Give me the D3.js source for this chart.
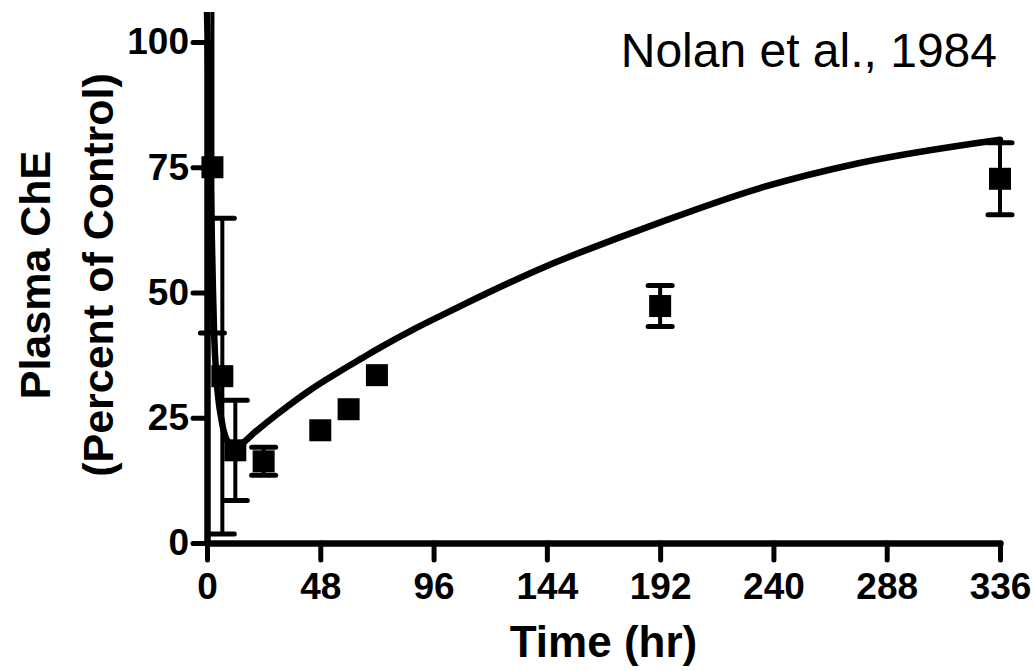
<!DOCTYPE html>
<html>
<head>
<meta charset="utf-8">
<script src="https://cdn.jsdelivr.net/npm/d3@7"></script>
<style>
  html, body { margin: 0; padding: 0; background: #fff; }
  svg { display: block; }
</style>
</head>
<body>
<svg id="chart" width="1033" height="671"></svg>
<script>
const obsTime  = [2.3, 6.5, 12, 24, 48, 60, 72, 192, 336];
const obsValue = [75, 33.3, 18.5, 16.3, 22.5, 26.7, 33.5, 47.3, 72.7];
const obsErr   = [33.1, 31.5, 10, 2.8, 0, 0, 0, 4.1, 7.2];

// model prediction curve
const modelTime  = [0, 0.5, 1, 1.5, 2, 2.5, 3, 4, 5, 6, 7, 8, 10, 12, 14, 20, 30, 43.6, 55, 65.7, 73.3, 87.3, 100, 114.8, 144, 172, 192, 234, 276, 336];
const modelValue = [106, 95, 84, 73, 62, 51, 42, 33, 28, 25, 22.5, 21, 19.6, 19.2, 19.6, 22, 25.8, 30.5, 33.9, 36.9, 39.0, 42.6, 45.6, 49.0, 55.3, 60.5, 64.0, 70.8, 75.8, 80.5];

const xTicks = [0, 48, 96, 144, 192, 240, 288, 336];
const yTicks = [0, 25, 50, 75, 100];

const svg = d3.select("#chart");
const font = "'Liberation Sans', Arial, sans-serif";

const x = d3.scaleLinear().domain([0, 336]).range([207, 1000]);
const y = d3.scaleLinear().domain([0, 100]).range([543, 42]);

// clip so the tall error bar stops near the top like in the figure
svg.append("clipPath").attr("id", "clip")
  .append("rect")
  .attr("x", 150).attr("y", y(106))
  .attr("width", 900).attr("height", 600);

// Y axis
const yAxis = svg.append("g")
  .attr("transform", `translate(${x(0)},0)`)
  .call(d3.axisLeft(y).tickValues(yTicks).tickSize(14).tickSizeOuter(0).tickPadding(4));

// X axis
const xAxis = svg.append("g")
  .attr("transform", `translate(0,${y(0)})`)
  .call(d3.axisBottom(x).tickValues(xTicks).tickSize(17).tickSizeOuter(0).tickPadding(13));

[yAxis, xAxis].forEach(g => {
  g.select(".domain").attr("stroke", "#000").attr("stroke-width", 6.5).attr("stroke-linecap", "round");
  g.selectAll(".tick line").attr("stroke", "#000").attr("stroke-width", 5).attr("stroke-linecap", "round");
  g.selectAll(".tick text")
    .attr("fill", "#000")
    .style("font-family", font)
    .style("font-weight", "bold")
    .style("font-size", "37px");
});

const plot = svg.append("g").attr("clip-path", "url(#clip)");

// error bars
const obs = obsTime.map((t, i) => ({ t, v: obsValue[i], e: obsErr[i] }));
const withErr = obs.filter(d => d.e > 0);

plot.selectAll(".err")
  .data(withErr)
  .enter().append("line")
  .attr("x1", d => x(d.t)).attr("x2", d => x(d.t))
  .attr("y1", d => y(d.v - d.e)).attr("y2", d => y(d.v + d.e))
  .attr("stroke", "#000").attr("stroke-width", 4);

const capW = 12;
["lo", "hi"].forEach(side => {
  plot.selectAll(".cap-" + side)
    .data(withErr)
    .enter().append("line")
    .attr("x1", d => x(d.t) - capW).attr("x2", d => x(d.t) + capW)
    .attr("y1", d => y(side === "lo" ? d.v - d.e : d.v + d.e))
    .attr("y2", d => y(side === "lo" ? d.v - d.e : d.v + d.e))
    .attr("stroke", "#000").attr("stroke-width", 5).attr("stroke-linecap", "round");
});

// model curve
const model = modelTime.map((t, i) => ({ t, v: modelValue[i] }));
plot.append("path")
  .datum(model)
  .attr("fill", "none")
  .attr("stroke", "#000")
  .attr("stroke-width", 6.5)
  .attr("stroke-linecap", "round")
  .attr("stroke-linejoin", "round")
  .attr("d", d3.line().x(d => x(d.t)).y(d => y(d.v)).curve(d3.curveMonotoneX));

// square markers
const ms = 22;
plot.selectAll(".pt")
  .data(obs)
  .enter().append("rect")
  .attr("x", d => x(d.t) - ms / 2)
  .attr("y", d => y(d.v) - ms / 2)
  .attr("width", ms).attr("height", ms)
  .attr("fill", "#000");

// axis titles
svg.append("text")
  .attr("x", (x(0) + x(336)) / 2)
  .attr("y", 657)
  .attr("text-anchor", "middle")
  .style("font-family", font).style("font-weight", "bold").style("font-size", "44px")
  .text("Time (hr)");

const yl = svg.append("g").attr("transform", "translate(0,275) rotate(-90)");
yl.append("text")
  .attr("x", 0).attr("y", 50)
  .attr("text-anchor", "middle")
  .style("font-family", font).style("font-weight", "bold").style("font-size", "43px")
  .text("Plasma ChE");
yl.append("text")
  .attr("x", 0).attr("y", 113)
  .attr("text-anchor", "middle")
  .style("font-family", font).style("font-weight", "bold").style("font-size", "43px")
  .text("(Percent of Control)");

// study label
svg.append("text")
  .attr("x", 997)
  .attr("y", 67)
  .attr("text-anchor", "end")
  .style("font-family", font).style("font-size", "48px")
  .text("Nolan et al., 1984");
</script>
</body>
</html>
